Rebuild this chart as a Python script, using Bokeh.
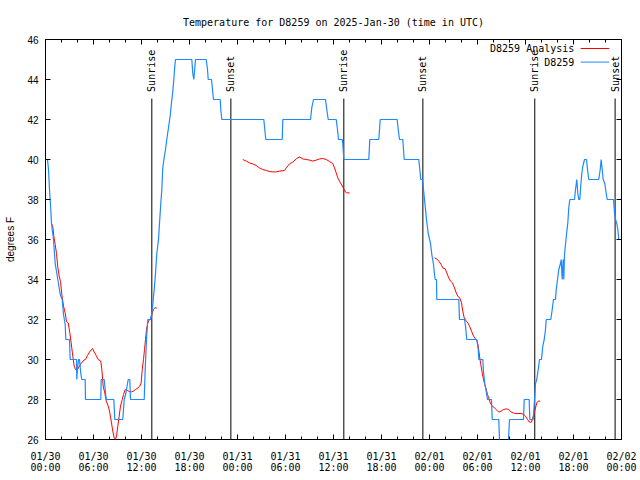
import math
from bokeh.plotting import figure
from bokeh.models import Range1d, FixedTicker, LinearAxis, Arrow, Label
from bokeh.core.properties import value
from bokeh.embed import file_html
from bokeh.resources import INLINE

NaN = float("nan")

# ---- data: hours since 2025-01-30 00:00 UTC, temperature in degrees F ----
obs_hours = [0.0, 0.25, 0.375, 0.5, 0.66, 0.75, 1.0, 1.21, 1.54, 1.84, 2.09, 2.25, 2.46, 2.54,
             3.0, 3.04, 3.09, 3.875, 3.91, 4.0, 4.125, 4.25, 4.41, 4.54, 4.96, 5.0, 6.91, 6.96,
             7.34, 7.41, 7.59, 8.54, 8.66, 9.66, 9.84, 10.04, 10.21, 10.34, 10.54, 10.625,
             12.34, 12.46, 12.625, 12.79, 13.125, 13.29, 13.41, 13.59, 13.75, 13.91, 14.125,
             14.25, 14.41, 14.54, 14.66, 14.84, 15.0, 15.16, 15.375, 15.59, 15.75, 15.91, 16.04,
             16.16, 16.25, 18.29, 18.41, 18.54, 18.75, 20.09, 20.25, 20.34, 20.75, 20.875, 21.0,
             21.84, 21.91, 22.04, 27.29, 27.41, 27.54, 29.59, 29.66, 33.125, 33.29, 33.5, 35.0,
             35.16, 35.34, 36.34, 36.5, 36.625, 37.09, 37.16, 37.29, 40.41, 40.54, 41.66, 41.84,
             43.96, 44.09, 44.25, 44.66, 44.84, 46.66, 46.79, 46.91, 47.125, 47.29, 47.46, 47.625,
             47.84, 48.125, 48.29, 48.5, 48.625, 48.71, 48.875, 48.91, 51.66, 51.75, 52.375, 52.5,
             52.66, 53.91, 54.09, 54.16, 54.66, 54.75, 54.91, 55.09, 55.25, 55.75, 55.84, 56.66,
             56.75, 56.81, 57.81, 57.875, 58.0, 59.75, 59.84, 60.46, 60.54, 60.96, 61.09, 61.16,
             61.25, 61.41, 61.59, 61.75, 62.0, 62.16, 62.34, 62.5, 62.59, 63.16, 63.34, 63.5,
             63.75, 63.84, 64.0, 64.16, 64.34, 64.46, 64.59, 64.71, 64.79, 64.875, 65.0, 65.125,
             65.29, 65.41, 65.54, 66.125, 66.25, 66.41, 66.54, 66.66, 66.79, 66.91, 67.04, 67.16,
             67.375, 67.625, 67.75, 67.91, 69.16, 69.34, 69.46, 69.59, 69.71, 69.91, 70.09, 70.21,
             71.0, 71.125, 71.25, 71.41, 71.54, 71.66, 71.81]
obs_temp = [40.0, 40.0, 39.5, 38.5, 37.5, 36.8, 36.0, 34.8, 34.0, 33.25, 33.0, 32.25, 31.75, 31.0,
            31.0, 30.5, 30.0, 30.0, 29.0, 29.5, 30.0, 30.0, 29.3, 29.0, 29.0, 28.0, 28.0, 29.0,
            29.0, 28.7, 28.0, 28.0, 27.0, 27.0, 28.0, 28.3, 28.7, 29.0, 29.0, 28.0,
            28.0, 29.5, 31.0, 32.0, 32.0, 32.3, 32.75, 33.5, 34.3, 35.3, 36.0,
            36.8, 37.8, 38.5, 39.6, 40.1, 40.5, 41.0, 41.6, 42.2, 42.85, 43.4, 44.0,
            44.65, 45.0, 45.0, 44.3, 44.0, 45.0, 45.0, 44.5, 44.0, 44.0, 43.5, 43.0,
            43.0, 42.5, 42.0, 42.0, 41.5, 41.0, 41.0, 42.0, 42.0, 42.6, 43.0, 43.0,
            42.5, 42.0, 42.0, 41.5, 41.0, 41.0, 40.8, 40.0, 40.0, 41.0, 41.0, 42.0,
            42.0, 41.5, 41.0, 41.0, 40.0, 40.0, 39.5, 39.0, 39.0, 38.35, 37.67, 37.0,
            36.3, 35.8, 35.25, 34.75, 34.25, 34.0, 34.0, 33.0, 33.0, 32.0, 32.0, 31.67,
            31.0, 31.0, 30.5, 30.0, 30.0, 29.4, 28.8, 28.4, 28.0, 28.0, 27.0, 27.0,
            26.0, 25.0, 25.0, 26.0, 27.0, 27.0, 28.0, 28.0, 27.0, 27.0, 27.75, 28.2,
            28.8, 29.0, 29.5, 30.0, 30.0, 30.67, 31.0, 31.5, 32.0, 32.0, 32.5, 33.0,
            33.0, 33.5, 34.0, 34.5, 34.75, 35.0, 34.0, 35.0, 34.0, 35.25, 35.75, 36.25,
            36.83, 37.58, 38.0, 38.0, 38.5, 39.0, 38.3, 38.0, 38.0, 38.7, 39.3, 39.65,
            40.0, 40.0, 39.5, 39.0, 39.0, 39.5, 40.0, 39.5, 39.0, 38.8, 38.3, 38.0,
            38.0, 37.35, 37.0, 36.8, 36.5, 36.0, 36.0]

ana_hours = [0.75, 0.91, 1.04, 1.21, 1.375, 1.54, 1.71, 1.875, 2.04, 2.25, 2.46, 2.625, 2.84, 3.04,
             3.21, 3.41, 3.59, 3.75, 4.0, 4.25, 4.5, 4.79, 5.0, 5.25, 5.5, 5.75, 5.875, 6.09, 6.34,
             6.59, 6.91, 7.04, 7.21, 7.41, 7.59, 7.84, 8.04, 8.25, 8.41, 8.59, 8.75, 8.875, 9.04,
             9.21, 9.375, 9.59, 9.75, 9.96, 10.21, 10.5, 10.75, 11.0, 11.25, 11.54, 11.79, 11.96,
             12.09, 12.25, 12.375, 12.5, 12.625, 12.79, 13.0, 13.16, 13.34, 13.5, 13.71, 13.91,
             NaN,
             24.66, 25.09, 25.5, 25.91, 26.34, 26.75, 27.16, 27.59, 28.0, 28.41, 28.84, 29.25,
             29.875, 30.09, 30.5, 30.91, 31.34, 31.75, 32.16, 32.59, 33.0, 33.41, 33.84, 34.25,
             34.66, 35.09, 35.5, 35.91, 36.125, 36.34, 36.54, 36.75, 36.875, 37.09, 37.34, 37.5,
             37.66, 38.0,
             NaN,
             48.625, 48.91, 49.16, 49.46, 49.66, 49.96, 50.16, 50.41, 50.625, 50.875, 51.125,
             51.34, 51.59, 51.79, 52.0, 52.16, 52.34, 52.59, 52.79, 53.0, 53.25, 53.5, 53.75,
             53.96, 54.09, 54.25, 54.41, 54.59, 54.75, 54.91, 55.09, 55.25, 55.41, 55.59, 55.84,
             56.125, 56.41, 56.66, 56.96, 57.25, 57.59, 57.91, 58.21, 58.46, 58.66, 59.04, 59.46,
             59.79, 60.0, 60.25, 60.5, 60.75, 60.91, 61.09, 61.25, 61.41, 61.59, 61.84]
ana_temp = [36.8, 36.65, 36.17, 35.75, 35.3, 34.6, 34.17, 33.9, 33.25, 32.67, 32.33, 31.9, 31.83, 31.33,
            30.83, 30.17, 29.67, 29.5, 29.5, 29.67, 29.83, 29.97, 30.0, 30.2, 30.37, 30.5, 30.55, 30.37, 30.2,
            30.0, 29.92, 29.5, 28.67, 28.33, 27.92, 27.67, 27.33, 26.83, 26.42, 26.08, 26.0, 26.17, 26.67,
            27.17, 27.67, 28.0, 28.25, 28.5, 28.45, 28.4, 28.38, 28.42, 28.5, 28.58, 28.67, 28.83,
            29.5, 30.0, 30.5, 31.0, 31.5, 31.83, 32.0, 32.0, 32.33, 32.5, 32.6, 32.57,
            NaN,
            40.0, 39.92, 39.83, 39.78, 39.7, 39.58, 39.5, 39.45, 39.4, 39.38, 39.38, 39.42,
            39.45, 39.58, 39.78, 39.87, 40.03, 40.13, 40.03, 40.0, 39.97, 39.92, 39.97, 40.03,
            40.05, 40.0, 39.9, 39.8, 39.58, 39.33, 39.08, 38.92, 38.83, 38.67, 38.5, 38.37,
            38.33, 38.33,
            NaN,
            35.08, 35.03, 34.92, 34.75, 34.58, 34.53, 34.33, 34.08, 33.92, 33.83, 33.58,
            33.33, 33.13, 33.08, 32.83, 32.42, 32.08, 31.92, 31.83, 31.67, 31.42, 31.17, 31.03,
            30.92, 30.67, 30.17, 29.75, 29.33, 29.0, 28.75, 28.5, 28.25, 28.08, 27.83, 27.67,
            27.58, 27.47, 27.37, 27.42, 27.5, 27.53, 27.5, 27.37, 27.33, 27.3, 27.3, 27.3,
            27.25, 27.17, 27.0, 26.87, 26.87, 27.08, 27.33, 27.58, 27.83, 27.92, 27.92]

sun_hours = [13.29, 23.17, 37.29, 47.17, 61.16, 71.2]
sun_labels = ["Sunrise", "Sunset", "Sunrise", "Sunset", "Sunrise", "Sunset"]

x_ticks = [0, 6, 12, 18, 24, 30, 36, 42, 48, 54, 60, 66, 72]
x_tick_labels = ["01/30\n00:00", "01/30\n06:00", "01/30\n12:00", "01/30\n18:00",
                 "01/31\n00:00", "01/31\n06:00", "01/31\n12:00", "01/31\n18:00",
                 "02/01\n00:00", "02/01\n06:00", "02/01\n12:00", "02/01\n18:00",
                 "02/02\n00:00"]
x_minor = list(range(0, 73, 2))
y_ticks = [26, 28, 30, 32, 34, 36, 38, 40, 42, 44, 46]

series_names = ["D8259 Analysis", "D8259"]
RED = "#ff0000"
BLUE = "#1e88ff"
MONO = "DejaVu Sans Mono"
SANS = "Liberation Sans"

p = figure(frame_width=576, frame_height=400, output_backend="svg", toolbar_location=None,
           x_range=Range1d(0, 72), y_range=Range1d(26, 46),
           min_border_left=45, min_border_right=18, min_border_top=39, min_border_bottom=30,
           x_axis_location=None, y_axis_location=None)
p.background_fill_color = "white"
p.border_fill_color = "white"
p.outline_line_color = "black"
p.outline_line_width = 1
p.xgrid.visible = False
p.ygrid.visible = False

p.title.text = "Temperature for D8259 on 2025-Jan-30 (time in UTC)"
p.title.align = "center"
p.title.text_font = MONO
p.title.text_font_size = "10px"
p.title.text_font_style = "normal"
p.title.text_color = "black"
p.title.standoff = 23

def style_axis(ax, show_labels):
    ax.axis_line_color = None
    ax.major_tick_in = 5
    ax.major_tick_out = 0
    ax.minor_tick_in = 3
    ax.minor_tick_out = 0
    ax.major_tick_line_color = "black"
    ax.minor_tick_line_color = "black"
    ax.major_label_text_color = "black"
    ax.axis_label_text_color = "black"
    if not show_labels:
        ax.major_label_overrides = {t: "" for t in ax.ticker.ticks}
        ax.major_label_text_font_size = "1px"
        ax.major_label_standoff = 0

xt = FixedTicker(ticks=x_ticks, minor_ticks=x_minor)
yt = FixedTicker(ticks=y_ticks, minor_ticks=[])

xb = LinearAxis(ticker=xt)
style_axis(xb, True)
xb.major_label_overrides = {t: l for t, l in zip(x_ticks, x_tick_labels)}
xb.major_label_text_font = MONO
xb.major_label_text_font_size = "10px"
xb.major_label_text_line_height = 1.05
xb.major_label_standoff = 11
p.add_layout(xb, "below")

xa = LinearAxis(ticker=xt)
style_axis(xa, False)
p.add_layout(xa, "above")

yl = LinearAxis(ticker=yt, axis_label="degrees F")
style_axis(yl, True)
yl.major_label_text_font = SANS
yl.major_label_text_font_size = "10px"
yl.major_label_standoff = 7
yl.axis_label_text_font = SANS
yl.axis_label_text_font_size = "10px"
yl.axis_label_text_font_style = "normal"
yl.axis_label_standoff = 8
p.add_layout(yl, "left")

yr = LinearAxis(ticker=yt)
style_axis(yr, False)
p.add_layout(yr, "right")

# sunrise / sunset markers
p.segment(x0=sun_hours, y0=[26] * len(sun_hours), x1=sun_hours, y1=[43.05] * len(sun_hours),
          line_color="black", line_width=1)
p.text(x=sun_hours, y=[43.38] * len(sun_hours), text=sun_labels, angle=math.pi / 2,
       text_align="left", text_baseline="middle", text_font=value(MONO),
       text_font_size="10px", text_color="black")

# series
p.line(ana_hours, ana_temp, line_color=RED, line_width=1)
p.line(obs_hours, obs_temp, line_color=BLUE, line_width=1.2)

# gnuplot-style key (label left of sample)
key_colors = [RED, BLUE]
key_y = [45.55, 44.87]
for name, col, ky in zip(series_names, key_colors, key_y):
    p.add_layout(Label(x=66.1, y=ky, text=name, text_align="right", text_baseline="middle",
                       text_font=MONO, text_font_size="10px", text_color="black"))
    p.add_layout(Arrow(end=None, x_start=66.9, y_start=ky, x_end=70.45, y_end=ky,
                       line_color=col, line_width=1))

open("out.html", "w").write(file_html(p, INLINE))
